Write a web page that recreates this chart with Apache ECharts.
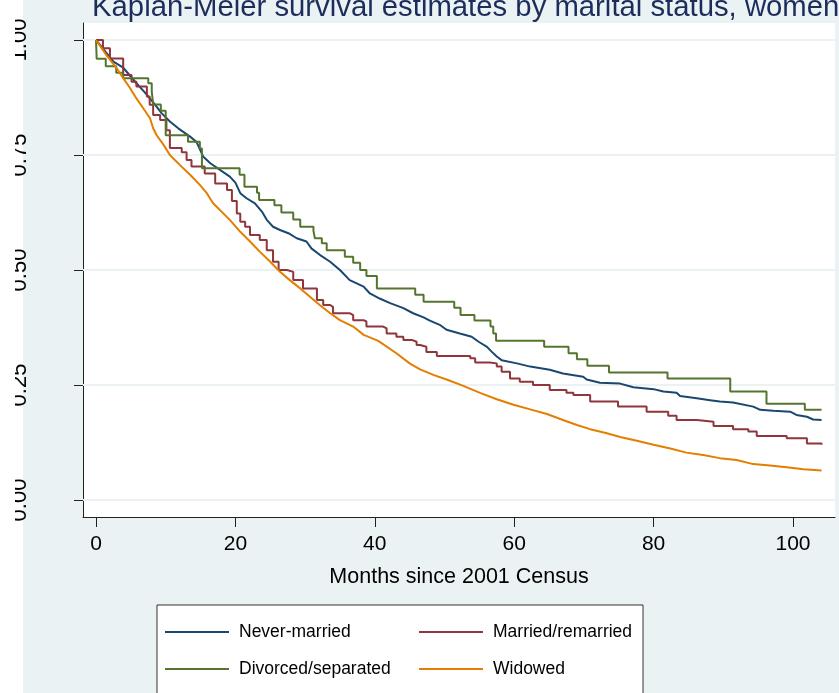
<!DOCTYPE html>
<html>
<head>
<meta charset="utf-8">
<script src="https://cdn.jsdelivr.net/npm/echarts@6/dist/echarts.min.js"></script>
<style>
html,body{margin:0;padding:0;background:#fff;}
#chart{width:839px;height:693px;}
</style>
</head>
<body>
<div id="chart"></div>
<script>
const titleText = 'Kaplan-Meier survival estimates by marital status, women';
const xAxisTitle = 'Months since 2001 Census';
const seriesNames = ['Never-married', 'Married/remarried', 'Divorced/separated', 'Widowed'];
const xTicks = [0, 20, 40, 60, 80, 100];
const yTicks = [0, 0.25, 0.5, 0.75, 1];

// [months, survival probability]
const neverMarried = [[0,1],[2.5,0.953],[3.9,0.940],[4.4,0.931],[5.8,0.906],[7.0,0.886],[8.5,0.859],[9.4,0.841],[10.6,0.823],[11.8,0.808],[13.5,0.790],[14.4,0.779],[15.4,0.746],[16.4,0.732],[19.2,0.703],[20.0,0.690],[20.7,0.667],[21.6,0.656],[22.8,0.645],[23.8,0.627],[24.5,0.609],[25.4,0.594],[26.4,0.587],[27.6,0.580],[28.8,0.569],[30.2,0.562],[30.9,0.547],[32.1,0.533],[33.6,0.518],[35.0,0.500],[36.4,0.478],[37.4,0.471],[38.4,0.464],[39.3,0.449],[40.7,0.438],[42.2,0.428],[44.1,0.417],[45.5,0.406],[47.0,0.397],[47.9,0.390],[49.4,0.380],[50.3,0.370],[52.2,0.362],[53.9,0.355],[54.9,0.344],[56.1,0.333],[56.8,0.322],[57.5,0.312],[58.2,0.304],[60.4,0.297],[62.3,0.290],[65.1,0.283],[67.0,0.275],[69.9,0.268],[70.4,0.262],[72.3,0.255],[75.2,0.253],[77.1,0.245],[80.0,0.241],[81.4,0.236],[83.3,0.233],[83.8,0.226],[86.2,0.221],[88.1,0.217],[89.5,0.214],[91.4,0.212],[94.3,0.203],[95.3,0.196],[97.2,0.194],[99.6,0.192],[100.5,0.185],[102.0,0.181],[102.9,0.175],[104.1,0.174]];
const marriedRemarried = [[0,1],[1.0,0.982],[2.0,0.960],[3.9,0.924],[5.1,0.909],[5.8,0.899],[7.3,0.877],[7.7,0.859],[8.2,0.837],[9.2,0.826],[10.1,0.804],[10.6,0.765],[12.3,0.756],[13.0,0.739],[13.7,0.725],[15.6,0.710],[17.1,0.688],[18.8,0.674],[19.5,0.650],[20.2,0.623],[20.7,0.605],[21.4,0.594],[22.1,0.576],[23.5,0.565],[24.5,0.543],[25.4,0.518],[26.2,0.500],[27.4,0.496],[28.3,0.478],[29.7,0.460],[31.7,0.435],[32.6,0.424],[33.6,0.420],[34.0,0.406],[36.4,0.402],[36.9,0.391],[38.4,0.388],[38.8,0.377],[41.2,0.373],[41.7,0.362],[43.1,0.355],[44.1,0.348],[45.3,0.344],[46.0,0.337],[46.5,0.333],[47.4,0.322],[48.9,0.313],[53.7,0.308],[54.4,0.299],[56.5,0.297],[57.5,0.290],[58.2,0.279],[59.4,0.264],[60.8,0.257],[62.7,0.250],[65.1,0.239],[67.5,0.233],[68.5,0.228],[70.9,0.214],[74.9,0.203],[79.0,0.192],[82.1,0.183],[83.3,0.174],[86.2,0.170],[88.6,0.161],[91.4,0.154],[93.6,0.149],[94.8,0.139],[99.1,0.134],[102.0,0.123],[104.1,0.120]];
const divorcedSeparated = [[0,1],[0.1,0.959],[1.4,0.943],[2.9,0.929],[3.9,0.917],[7.5,0.906],[8.0,0.888],[8.2,0.860],[9.3,0.846],[10.0,0.793],[13.2,0.779],[14.9,0.764],[15.2,0.721],[20.6,0.707],[21.3,0.681],[23.1,0.668],[23.4,0.652],[25.6,0.641],[26.6,0.625],[28.3,0.610],[29.3,0.594],[31.2,0.585],[31.4,0.569],[32.4,0.558],[33.1,0.543],[35.7,0.529],[36.9,0.516],[37.9,0.500],[38.8,0.487],[40.3,0.460],[45.8,0.446],[47.0,0.431],[51.4,0.418],[52.3,0.402],[54.3,0.390],[56.6,0.377],[57.0,0.362],[57.4,0.346],[64.3,0.333],[67.8,0.319],[69.0,0.306],[70.5,0.292],[73.6,0.277],[82.0,0.264],[91.0,0.236],[96.2,0.209],[101.7,0.196],[104.1,0.196]];
const widowed = [[0,1],[1.5,0.967],[3.0,0.938],[3.9,0.917],[4.9,0.895],[5.8,0.873],[6.8,0.851],[7.75,0.830],[8.2,0.808],[8.7,0.793],[9.7,0.772],[10.6,0.750],[12.05,0.728],[13.5,0.707],[14.9,0.685],[15.9,0.667],[16.8,0.645],[19.2,0.609],[20.7,0.583],[22.1,0.562],[23.5,0.540],[25.0,0.518],[26.4,0.496],[27.8,0.478],[29.3,0.460],[30.7,0.442],[32.1,0.424],[33.6,0.406],[35.0,0.391],[36.9,0.377],[38.4,0.359],[40.5,0.346],[43.1,0.319],[45.0,0.297],[46.5,0.284],[48.4,0.272],[50.3,0.262],[52.7,0.248],[55.1,0.233],[57.5,0.219],[59.9,0.207],[62.3,0.197],[64.7,0.187],[67.0,0.174],[69.0,0.163],[70.9,0.154],[73.3,0.145],[75.2,0.137],[77.6,0.129],[80.0,0.120],[82.4,0.112],[84.7,0.103],[87.1,0.098],[89.5,0.091],[91.9,0.087],[94.3,0.078],[96.7,0.075],[99.1,0.071],[101.5,0.067],[104.1,0.064]];

const colors = ['#1a476f', '#90353b', '#55752f', '#e37e00'];
const FONT = '"Liberation Sans", Arial, Helvetica, sans-serif';

const chart = echarts.init(document.getElementById('chart'), null, {renderer: 'canvas'});

const col1 = ['Never-married', 'Divorced/separated'];
const option = {
  backgroundColor: '#EAF2F3',
  animation: false,
  title: {
    text: titleText,
    left: 87,
    top: -12,
    textStyle: {fontFamily: FONT, fontSize: 29.3, fontWeight: 'normal', color: '#1c2d5c'}
  },
  graphic: {
    elements: [
      {type: 'rect', shape: {x: 0, y: 0, width: 23, height: 693}, style: {fill: '#ffffff'}, z: -10, silent: true},
      {type: 'rect', shape: {x: 0, y: 0, width: 15, height: 693}, style: {fill: '#ffffff'}, z: 100, silent: true}
    ]
  },
  grid: {
    left: 83, top: 23, right: 4, bottom: 176,
    show: true, backgroundColor: '#ffffff', borderWidth: 0
  },
  legend: {
    data: [seriesNames[0], seriesNames[1], '', seriesNames[2], seriesNames[3]],
    left: 157, top: 605,
    padding: [14, 10, 14, 8],
    itemGap: 11,
    itemWidth: 64, itemHeight: 2,
    icon: 'rect',
    backgroundColor: '#ffffff',
    borderColor: '#333333', borderWidth: 1, borderRadius: 0,
    formatter: function (name) { return (col1.indexOf(name) >= 0 ? '{a|' : '{b|') + name + '}'; },
    textStyle: {
      fontFamily: FONT, fontSize: 17.5, color: '#000', lineHeight: 26,
      rich: {
        a: {width: 169, padding: [0, 0, 0, 5], fontFamily: FONT, fontSize: 17.5, lineHeight: 26, color: '#000'},
        b: {width: 140, padding: [0, 0, 0, 5], fontFamily: FONT, fontSize: 17.5, lineHeight: 26, color: '#000'}
      }
    }
  },
  xAxis: {
    type: 'value',
    min: -1.865, max: 106.03,
    name: xAxisTitle,
    nameLocation: 'middle',
    nameGap: 49,
    nameTextStyle: {fontFamily: FONT, fontSize: 21.5, color: '#000'},
    axisLine: {show: true, onZero: false, lineStyle: {color: '#222', width: 1}},
    axisTick: {show: true, length: 10, customValues: xTicks, lineStyle: {color: '#222', width: 1}},
    axisLabel: {customValues: xTicks, fontFamily: FONT, fontSize: 21, color: '#000', margin: 17},
    splitLine: {show: false}
  },
  yAxis: {
    type: 'value',
    min: -0.03696, max: 1.03696,
    axisLine: {show: true, onZero: false, lineStyle: {color: '#222', width: 1}},
    axisTick: {show: true, length: 9, customValues: yTicks, lineStyle: {color: '#222', width: 1}},
    axisLabel: {
      customValues: yTicks, rotate: 90, margin: 52,
      fontFamily: FONT, fontSize: 22, color: '#000',
      formatter: function (v) { return v.toFixed(2); }
    },
    splitLine: {show: false}
  },
  series: [
    {
      name: '_grid', type: 'line', data: [[-50, -50]], showSymbol: false, silent: true, z: 1,
      lineStyle: {opacity: 0},
      markLine: {
        z: 1,
        silent: true, symbol: ['none', 'none'], label: {show: false}, animation: false,
        lineStyle: {color: '#EAF2F3', width: 2, type: 'solid'},
        emphasis: {disabled: true},
        data: yTicks.map(function (v) { return {yAxis: v}; })
      }
    },
    {name: seriesNames[0], type: 'line', data: neverMarried, showSymbol: false, z: 10,
     lineStyle: {color: colors[0], width: 2}, itemStyle: {color: colors[0]}},
    {name: seriesNames[1], type: 'line', data: marriedRemarried, step: 'end', showSymbol: false, z: 10,
     lineStyle: {color: colors[1], width: 2}, itemStyle: {color: colors[1]}},
    {name: seriesNames[2], type: 'line', data: divorcedSeparated, step: 'end', showSymbol: false, z: 10,
     lineStyle: {color: colors[2], width: 2}, itemStyle: {color: colors[2]}},
    {name: seriesNames[3], type: 'line', data: widowed, showSymbol: false, z: 10,
     lineStyle: {color: colors[3], width: 2}, itemStyle: {color: colors[3]}}
  ]
};
chart.setOption(option);
</script>
</body>
</html>
